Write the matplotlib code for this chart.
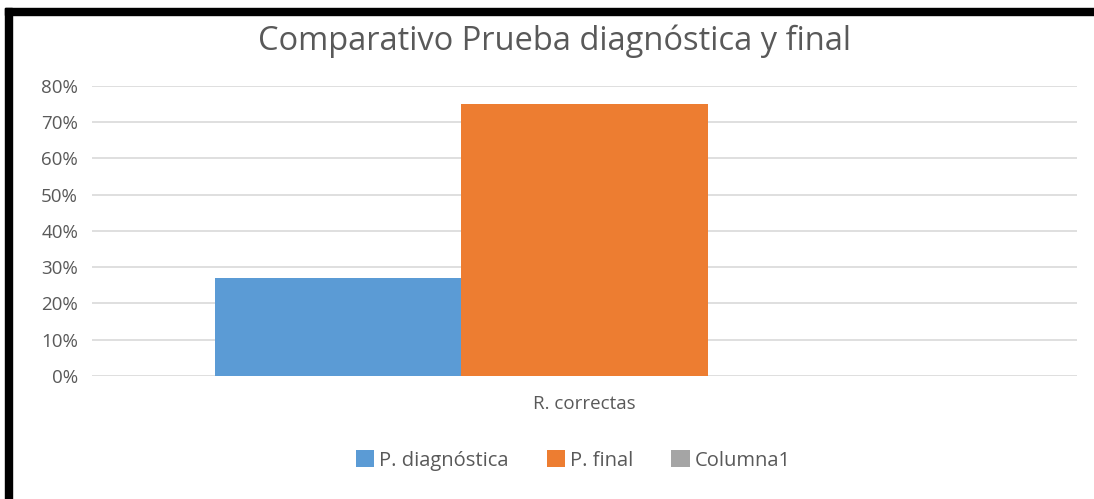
import matplotlib.pyplot as plt
from matplotlib.patches import Rectangle
from matplotlib.ticker import PercentFormatter

series = ["P. diagnóstica", "P. final", "Columna1"]
values = [27, 75, 0]
category = "R. correctas"
colors = ["#5b9bd5", "#ed7d31", "#a5a5a5"]
y_ticks = [0, 10, 20, 30, 40, 50, 60, 70, 80]

plt.rcParams["font.family"] = ["Open Sans", "DejaVu Sans"]
text_color = "#595959"

fig = plt.figure(figsize=(10.94, 4.99), dpi=100)
ax = fig.add_axes([0.0841, 0.2465, 0.9004, 0.5812])

width = 0.25
for i, (name, val, col) in enumerate(zip(series, values, colors)):
    ax.bar((i - 1) * width, val, width=width, color=col, label=name, zorder=3)

ax.set_xlim(-0.5, 0.5)
ax.set_ylim(0, 80)
ax.set_yticks(y_ticks)
ax.yaxis.set_major_formatter(PercentFormatter(decimals=0))
ax.set_xticks([0])
ax.set_xticklabels([category])
ax.tick_params(axis="both", length=0, colors=text_color, labelsize=13.5)
ax.tick_params(axis="y", pad=10)
ax.tick_params(axis="x", pad=14)
ax.grid(axis="y", color="#d9d9d9", linewidth=1.2, zorder=0)
for s in ax.spines.values():
    s.set_visible(False)

fig.text(0.507, 0.918, "Comparativo Prueba diagnóstica y final", ha="center", va="center",
         fontsize=23.5, color=text_color)

leg = fig.legend(loc="center", bbox_to_anchor=(0.524, 0.077), ncol=3, frameon=False,
                 fontsize=14.5, handlelength=0.9, handleheight=0.9, handletextpad=0.25,
                 columnspacing=1.9)
for t in leg.get_texts():
    t.set_color(text_color)

# black frame around the screenshot (left and top)
fig.patches.append(Rectangle((5 / 1094, 0), 7 / 1094, 1 - 8 / 499, transform=fig.transFigure,
                             color="black", zorder=10))
fig.patches.append(Rectangle((5 / 1094, 1 - 15 / 499), 1 - 5 / 1094, 7 / 499,
                             transform=fig.transFigure, color="black", zorder=10))

fig.savefig("out.png", dpi=100)
